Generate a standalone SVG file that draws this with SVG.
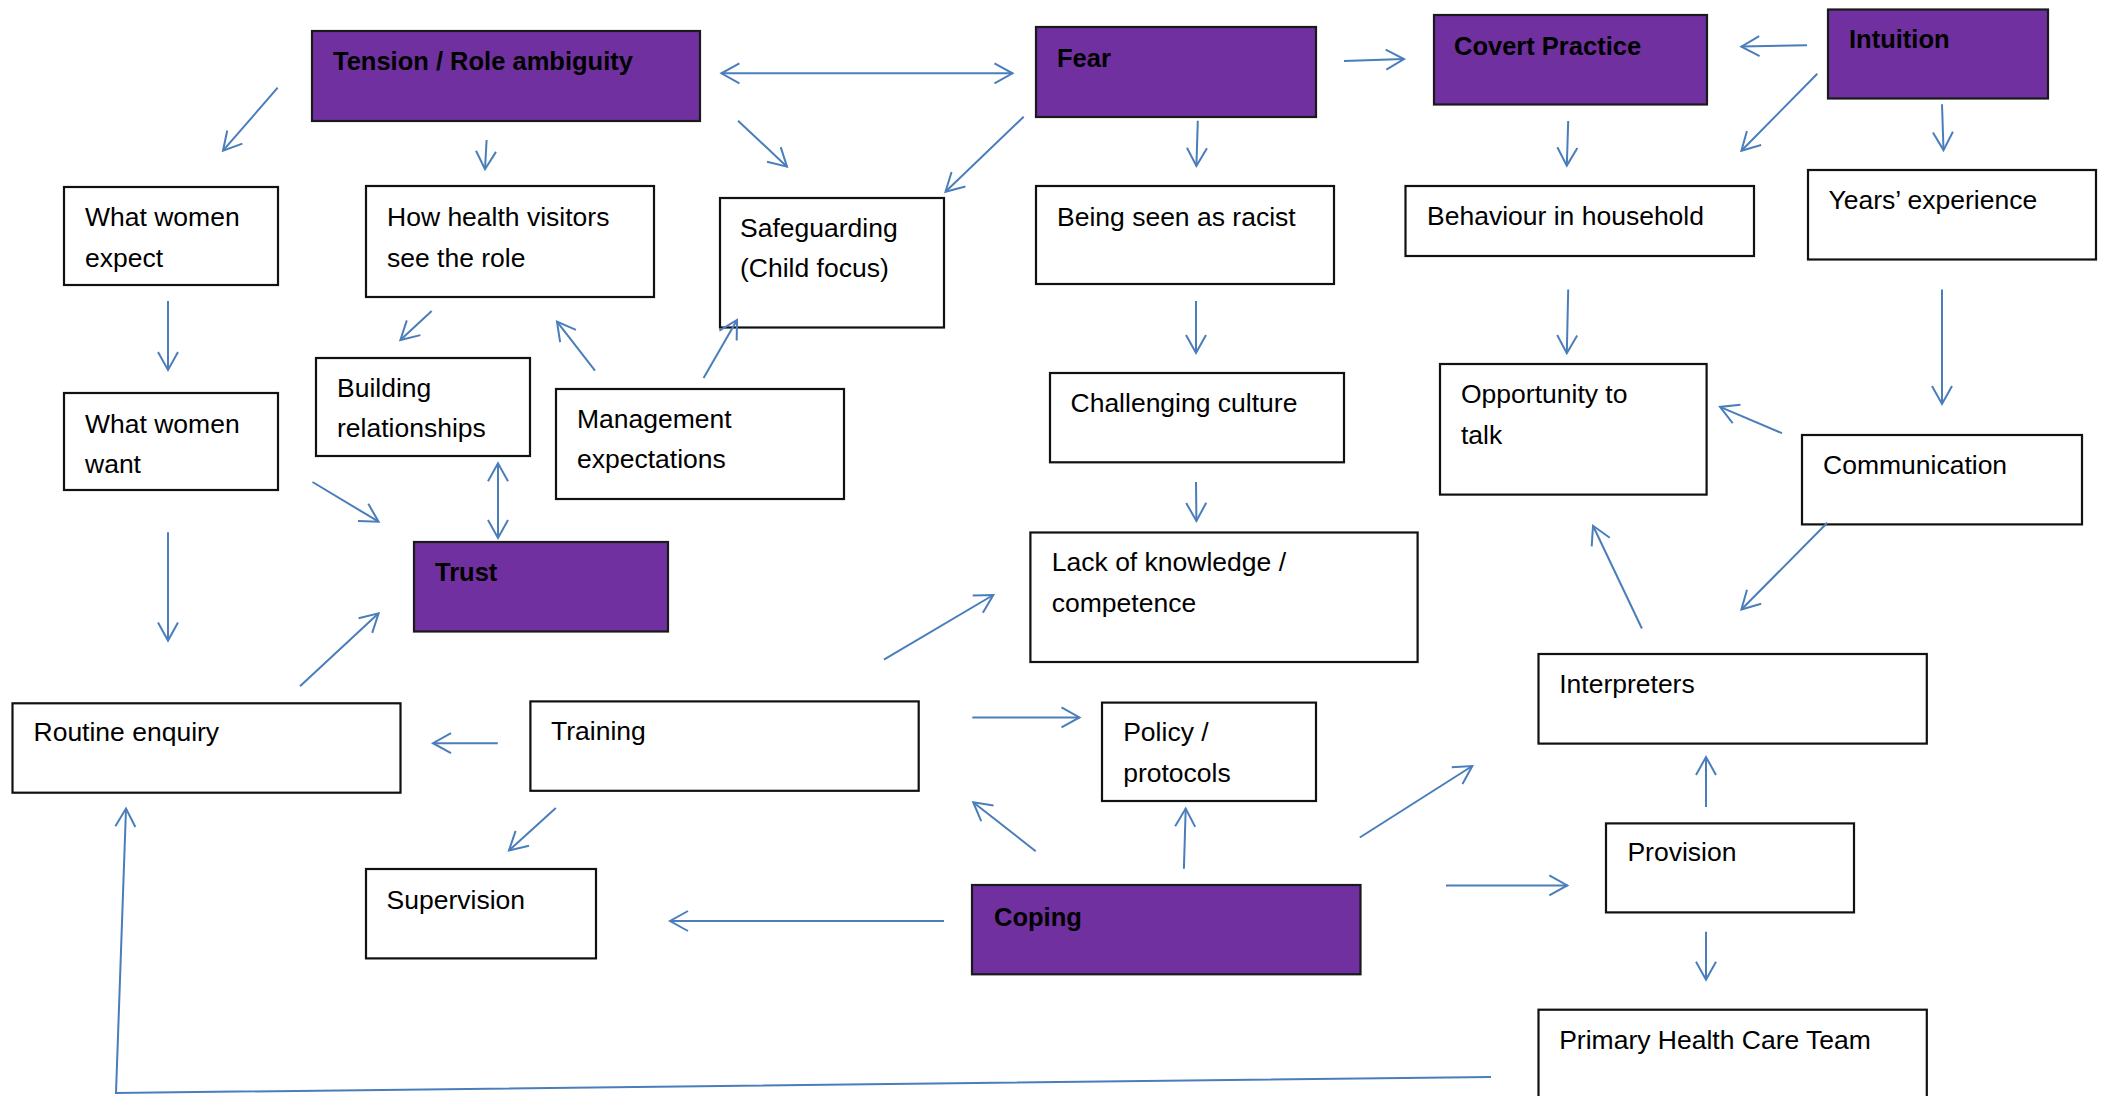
<svg xmlns="http://www.w3.org/2000/svg" width="2109" height="1096" viewBox="0 0 2109 1096">
  <style>
    .box { fill: #ffffff; stroke: #111111; stroke-width: 2.2; }
    .key { fill: #7030a0; stroke: #1a1a1a; stroke-width: 2.2; }
    .lbl { font-family: "Liberation Sans", Arial, sans-serif; font-size: 26.5px; fill: #000000; }
    .klbl { font-family: "Liberation Sans", Arial, sans-serif; font-size: 25.5px; font-weight: bold; fill: #000000; }
    .edge { fill: none; stroke: #4a7ebb; stroke-width: 2; marker-end: url(#arr); }
    .both { marker-start: url(#arr); }
  </style>
  <defs>
    <marker id="arr" markerUnits="userSpaceOnUse" markerWidth="44" markerHeight="44" viewBox="-22 -22 44 44" refX="0" refY="0" orient="auto-start-reverse" overflow="visible">
      <path d="M-18,-10 L0,0 L-18,10" fill="none" stroke="#4a7ebb" stroke-width="2"/>
    </marker>
  </defs>
  <rect width="2109" height="1096" fill="#ffffff"/>

  <!-- key themes (purple) -->
  <g id="tension"><rect class="key" x="312" y="31" width="388" height="90"/><text class="klbl" x="333" y="70">Tension / Role ambiguity</text></g>
  <g id="fear"><rect class="key" x="1036" y="27" width="280" height="90"/><text class="klbl" x="1057" y="67">Fear</text></g>
  <g id="covert"><rect class="key" x="1434" y="15" width="273" height="89.5"/><text class="klbl" x="1454" y="54.5">Covert Practice</text></g>
  <g id="intuition"><rect class="key" x="1828" y="9.5" width="220" height="89"/><text class="klbl" x="1849" y="48">Intuition</text></g>
  <g id="trust"><rect class="key" x="414" y="542" width="254" height="89.5"/><text class="klbl" x="435" y="580.5">Trust</text></g>
  <g id="coping"><rect class="key" x="972" y="885" width="388.5" height="89.3"/><text class="klbl" x="994" y="925.5">Coping</text></g>

  <!-- sub-themes (white) -->
  <g id="women-expect"><rect class="box" x="64" y="187" width="214" height="98"/><text class="lbl" x="85" y="226">What women</text><text class="lbl" x="85" y="266.7">expect</text></g>
  <g id="hv-role"><rect class="box" x="366" y="186" width="288" height="111"/><text class="lbl" x="387" y="226">How health visitors</text><text class="lbl" x="387" y="266.7">see the role</text></g>
  <g id="safeguarding"><rect class="box" x="720" y="198" width="224" height="129.5"/><text class="lbl" x="740" y="237.3">Safeguarding</text><text class="lbl" x="740" y="276.7">(Child focus)</text></g>
  <g id="racist"><rect class="box" x="1036" y="186" width="298" height="98"/><text class="lbl" x="1057" y="226">Being seen as racist</text></g>
  <g id="behaviour"><rect class="box" x="1405.5" y="186" width="348.5" height="70"/><text class="lbl" x="1427" y="224.5">Behaviour in household</text></g>
  <g id="years"><rect class="box" x="1808" y="170" width="288" height="89.5"/><text class="lbl" x="1828.5" y="209.4">Years’ experience</text></g>
  <g id="women-want"><rect class="box" x="64" y="393" width="214" height="97"/><text class="lbl" x="85" y="432.7">What women</text><text class="lbl" x="85" y="473">want</text></g>
  <g id="building"><rect class="box" x="316" y="358" width="214" height="98"/><text class="lbl" x="337" y="396.7">Building</text><text class="lbl" x="337" y="437">relationships</text></g>
  <g id="management"><rect class="box" x="556" y="389" width="288" height="110"/><text class="lbl" x="577" y="427.7">Management</text><text class="lbl" x="577" y="468">expectations</text></g>
  <g id="challenging"><rect class="box" x="1050" y="373" width="294" height="89.3"/><text class="lbl" x="1070.5" y="412.3">Challenging culture</text></g>
  <g id="opportunity"><rect class="box" x="1440" y="364" width="266.6" height="130.6"/><text class="lbl" x="1461" y="402.7">Opportunity to</text><text class="lbl" x="1461" y="443.7">talk</text></g>
  <g id="communication"><rect class="box" x="1802" y="435" width="280" height="89.4"/><text class="lbl" x="1823" y="474.2">Communication</text></g>
  <g id="lack"><rect class="box" x="1030.4" y="532.5" width="387.2" height="129.5"/><text class="lbl" x="1051.8" y="571">Lack of knowledge /</text><text class="lbl" x="1051.8" y="612">competence</text></g>
  <g id="routine"><rect class="box" x="12.5" y="703.3" width="388" height="89.4"/><text class="lbl" x="33.5" y="741.3">Routine enquiry</text></g>
  <g id="training"><rect class="box" x="530.4" y="701.4" width="388.3" height="89.4"/><text class="lbl" x="551" y="739.5">Training</text></g>
  <g id="policy"><rect class="box" x="1102" y="702.6" width="214" height="98.4"/><text class="lbl" x="1123.2" y="741.3">Policy /</text><text class="lbl" x="1123.2" y="782">protocols</text></g>
  <g id="interpreters"><rect class="box" x="1538.5" y="654" width="388.3" height="89.6"/><text class="lbl" x="1559.2" y="692.7">Interpreters</text></g>
  <g id="provision"><rect class="box" x="1606" y="823.4" width="248" height="89"/><text class="lbl" x="1627.4" y="861">Provision</text></g>
  <g id="supervision"><rect class="box" x="366" y="869" width="230" height="89.4"/><text class="lbl" x="386.6" y="908.6">Supervision</text></g>
  <g id="primary"><rect class="box" x="1538.5" y="1009.7" width="388.3" height="100"/><text class="lbl" x="1559.2" y="1048.5">Primary Health Care Team</text></g>

  <!-- connectors -->
  <g id="connectors">
    <line class="edge" x1="277.7" y1="87.7" x2="223" y2="150.7"/>
    <line class="edge" x1="486.6" y1="140" x2="485" y2="169.3"/>
    <line class="edge both" x1="721.4" y1="73.3" x2="1012.5" y2="73.3"/>
    <line class="edge" x1="738" y1="120.7" x2="787" y2="166.7"/>
    <line class="edge" x1="1023.7" y1="116.7" x2="945.5" y2="191.7"/>
    <line class="edge" x1="1197.8" y1="120.7" x2="1196.4" y2="166"/>
    <line class="edge" x1="1344" y1="61" x2="1404" y2="59"/>
    <line class="edge" x1="1807" y1="45.2" x2="1741.4" y2="46.6"/>
    <line class="edge" x1="1817.3" y1="73.7" x2="1741.4" y2="150.8"/>
    <line class="edge" x1="1942" y1="104.2" x2="1943.5" y2="150.1"/>
    <line class="edge" x1="1568.2" y1="121" x2="1566.8" y2="165.6"/>
    <line class="edge" x1="168" y1="301" x2="168" y2="370"/>
    <line class="edge" x1="431.7" y1="311" x2="400.4" y2="340"/>
    <line class="edge" x1="595" y1="370.7" x2="557" y2="321.7"/>
    <line class="edge" x1="703.6" y1="378" x2="737" y2="320"/>
    <line class="edge" x1="1196" y1="301" x2="1196" y2="353"/>
    <line class="edge" x1="1568.2" y1="289.4" x2="1566.8" y2="353.2"/>
    <line class="edge" x1="1942" y1="289.4" x2="1942" y2="404"/>
    <line class="edge" x1="1782" y1="433.2" x2="1720" y2="406.9"/>
    <line class="edge both" x1="498" y1="463.3" x2="498" y2="538"/>
    <line class="edge" x1="312.5" y1="482" x2="378.6" y2="521.7"/>
    <line class="edge" x1="1196" y1="482" x2="1196.4" y2="520.9"/>
    <line class="edge" x1="168" y1="532.3" x2="168" y2="640.6"/>
    <line class="edge" x1="300" y1="686.2" x2="378.6" y2="613.3"/>
    <line class="edge" x1="497.8" y1="743.2" x2="433" y2="743.2"/>
    <line class="edge" x1="883.9" y1="659.6" x2="993.3" y2="595"/>
    <line class="edge" x1="972.3" y1="717.4" x2="1079.5" y2="717.4"/>
    <line class="edge" x1="555.8" y1="807.9" x2="509" y2="850.4"/>
    <line class="edge" x1="1641.9" y1="628.5" x2="1593" y2="525.8"/>
    <line class="edge" x1="1827.3" y1="522.8" x2="1741.4" y2="609.5"/>
    <line class="edge" x1="1035.7" y1="851.2" x2="973.2" y2="802.2"/>
    <line class="edge" x1="1183.9" y1="868.7" x2="1185.7" y2="808.6"/>
    <line class="edge" x1="1359.8" y1="837.5" x2="1472.3" y2="766"/>
    <line class="edge" x1="944" y1="921" x2="670" y2="921"/>
    <line class="edge" x1="1446" y1="885.4" x2="1567.3" y2="885.4"/>
    <line class="edge" x1="1706" y1="807" x2="1706" y2="757"/>
    <line class="edge" x1="1706" y1="931.8" x2="1706" y2="979.7"/>
    <polyline class="edge" points="1491,1077 116,1093 126,808.6"/>
  </g>
</svg>
